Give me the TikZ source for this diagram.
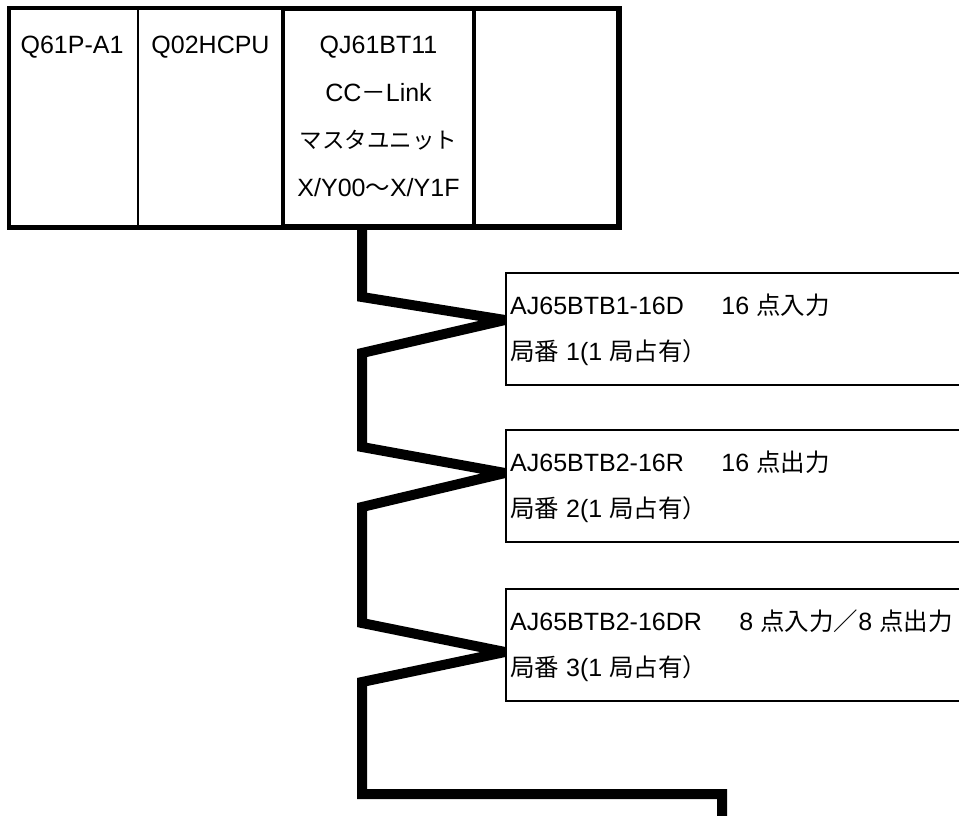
\documentclass[tikz,border=0pt]{standalone}
\usepackage{fontspec}
\setmainfont{Liberation Sans}
\newfontfamily\jp{Noto Sans CJK JP}[Scale=0.98]
\newfontfamily\jpk{Noto Sans CJK JP}[Scale=0.9]
\usetikzlibrary{calc}

\begin{document}
\begin{tikzpicture}[x=1pt, y=-1pt,
  label/.style={font=\fontsize{25}{28}\selectfont, inner sep=0pt},
  slotthin/.style={draw, line width=2pt, minimum height=217pt, inner sep=0pt},
  slotthick/.style={draw, line width=4pt, minimum height=217pt, inner sep=0pt},
  station/.style={draw, line width=2pt, anchor=north west, minimum width=480pt,
    minimum height=112pt, inner sep=0pt},
  cable/.style={line width=10pt, line join=miter, miter limit=2}]

  % page area
  \fill[white] (0,0) rectangle (959,816);
  \clip (0,0) rectangle (959,816);

  % --- base unit with its modules ---
  \node[slotthin,  minimum width=128pt] (psu)    at (74,117.5)    {};
  \node[slotthin,  minimum width=145pt] (cpu)    at (210.5,117.5) {};
  \node[slotthick, minimum width=191pt] (master) at (378.5,117.5) {};
  \node[slotthick, minimum width=144pt] (empty)  at (546,117.5)   {};
  \draw[line width=4pt] (psu.north west) rectangle (empty.south east);

  \node[label, anchor=base] (psuname) at (72,53.5)     {Q61P-A1};
  \node[label, anchor=base] (cpuname) at (210.5,53.5)  {Q02HCPU};
  \node[label, anchor=base] (m1) at (378.5,53.5)  {QJ61BT11};
  \node[label, anchor=base] (m2) at (378.5,101.5) {CC{\jp －}Link};
  \node[label, anchor=base] (m3) at (378.5,148.5) {\jpk マスタユニット};
  \node[label, anchor=base] (m4) at (378.5,196.5) {X/Y00{\jp ～}X/Y1F};

  % --- remote stations ---
  \node[station] (st1) at (505,272) {};
  \node[station] (st2) at (505,429) {};
  \node[station] (st3) at (505,588) {};

  \node[label, anchor=base west] (st1a) at ($(st1.north west)+(5,42.5)$)
    {AJ65BTB1-16D\hspace{1.5em}16 {\jp 点入力}};
  \node[label, anchor=base west] (st1b) at ($(st1.north west)+(5,88)$)
    {{\jp 局番} 1(1 {\jp 局占有）}};
  \node[label, anchor=base west] (st2a) at ($(st2.north west)+(5,42.5)$)
    {AJ65BTB2-16R\hspace{1.5em}16 {\jp 点出力}};
  \node[label, anchor=base west] (st2b) at ($(st2.north west)+(5,88)$)
    {{\jp 局番} 2(1 {\jp 局占有）}};
  \node[label, anchor=base west] (st3a) at ($(st3.north west)+(5,42.5)$)
    {AJ65BTB2-16DR\hspace{1.5em}8 {\jp 点入力／}8 {\jp 点出力}};
  \node[label, anchor=base west] (st3b) at ($(st3.north west)+(5,88)$)
    {{\jp 局番} 3(1 {\jp 局占有）}};

  % --- CC-Link cable: drops from the master, touches each station ---
  \coordinate (c0)   at ($(master.south)+(-16.5,0)$);
  \coordinate (k1)   at (362,297);
  \coordinate (tip1) at ($(st1.north west)+(0,48)$);
  \coordinate (k2)   at (362,353);
  \coordinate (k3)   at (362,447);
  \coordinate (tip2) at ($(st2.north west)+(0,44)$);
  \coordinate (k4)   at (362,507);
  \coordinate (k5)   at (362,623);
  \coordinate (tip3) at ($(st3.north west)+(0,64)$);
  \coordinate (k6)   at (362,682);
  \coordinate (k7)   at (362,794);
  \coordinate (k8)   at (722,794);
  \coordinate (cend) at (722,830);

  \draw[cable] (c0) -- (k1) -- (tip1) -- (k2) -- (k3) -- (tip2) -- (k4)
    -- (k5) -- (tip3) -- (k6) -- (k7) -- (k8) -- (cend);
\end{tikzpicture}
\end{document}
